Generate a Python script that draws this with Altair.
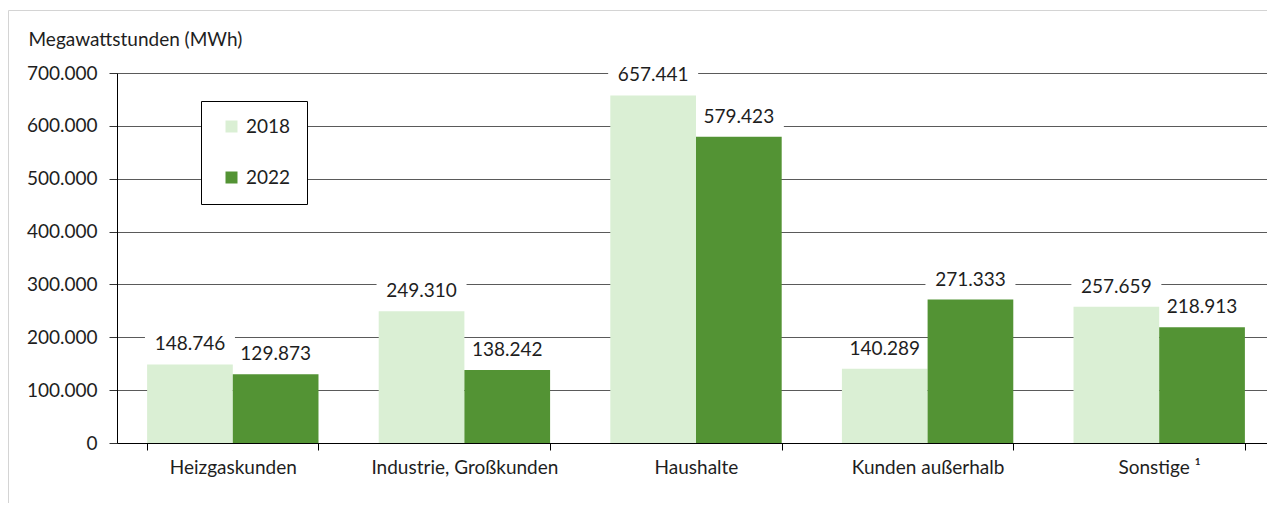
import altair as alt
import pandas as pd

categories = ["Heizgaskunden", "Industrie, Großkunden", "Haushalte", "Kunden außerhalb", "Sonstige ¹"]
years = ["2018", "2022"]
values_2018 = [148746, 249310, 657441, 140289, 257659]
values_2022 = [129873, 138242, 579423, 271333, 218913]
y_ticks = [0, 100000, 200000, 300000, 400000, 500000, 600000, 700000]

colors = ["#DAEFD4", "#539334"]
FONT = "Lato"
TXT = "#1e1e1e"

rows = []
for cat, a, b in zip(categories, values_2018, values_2022):
    for yr, v in zip(years, [a, b]):
        rows.append({"Kategorie": cat, "Jahr": yr, "Wert": v,
                     "Label": f"{v:,}".replace(",", ".")})
df = pd.DataFrame(rows)

W, H = 1150, 370
XR = 1158

base = alt.Chart(df).encode(
    x=alt.X("Kategorie:N", sort=categories,
            scale=alt.Scale(paddingInner=0.26, paddingOuter=0.13, range=[0, XR]),
            axis=alt.Axis(title=None, labelAngle=0, tickBand="extent",
                          labelFontSize=19, labelFont=FONT, labelColor=TXT,
                          labelLimit=400,
                          labelPadding=8, tickSize=7, tickColor="black",
                          domainColor="black", grid=False)),
    xOffset=alt.XOffset("Jahr:N", sort=years,
                        scale=alt.Scale(paddingInner=0, paddingOuter=0)),
    y=alt.Y("Wert:Q", scale=alt.Scale(domain=[0, 700000], nice=False),
            axis=alt.Axis(values=y_ticks,
                          labelExpr="replace(format(datum.value, ',d'), ',', '.')",
                          labelFontSize=19, labelFont=FONT, labelColor=TXT,
                          labelPadding=12, tickSize=8, tickColor="#333",
                          domainColor="black",
                          grid=True, gridColor="#5a5a5a", gridOpacity=1, gridWidth=1,
                          title="Megawattstunden (MWh)", titleAngle=0,
                          titleX=-89, titleY=-28, titleAlign="left",
                          titleBaseline="alphabetic", titleFontSize=19,
                          titleFont=FONT, titleFontWeight="normal", titleColor=TXT)),
)

boxes = base.mark_tick(color="white", size=90, thickness=30, yOffset=-15, opacity=1)

bars = base.mark_bar().encode(
    color=alt.Color("Jahr:N", sort=years,
                    scale=alt.Scale(domain=years, range=colors),
                    legend=alt.Legend(title=None, orient="none", legendX=84, legendY=28,
                                      direction="vertical", symbolType="square",
                                      symbolSize=144, symbolStrokeWidth=0,
                                      labelFontSize=19, labelFont=FONT, labelColor=TXT,
                                      padding=16, rowPadding=31, symbolOffset=5,
                                      labelOffset=5, strokeColor="black",
                                      fillColor="white"))
)

labels = base.mark_text(baseline="middle", yOffset=-20, fontSize=19,
                        font=FONT, color=TXT).encode(text="Label:N")

frame = alt.Chart(pd.DataFrame({"f": [0]})).mark_rect(
    fill="transparent", stroke="#d4d4d4", strokeWidth=1
).encode(x=alt.value(-108.5), x2=alt.value(W + 40),
         y=alt.value(-62.5), y2=alt.value(H + 120))

chart = alt.layer(frame, boxes, bars, labels).properties(
    width=W, height=H,
    autosize=alt.AutoSizeParams(type="none"),
    padding={"left": 109, "top": 65, "right": 0, "bottom": 60},
).configure_view(strokeWidth=0).configure(background="white")

chart.save("out.html", embed_options={"renderer": "svg", "actions": False})
